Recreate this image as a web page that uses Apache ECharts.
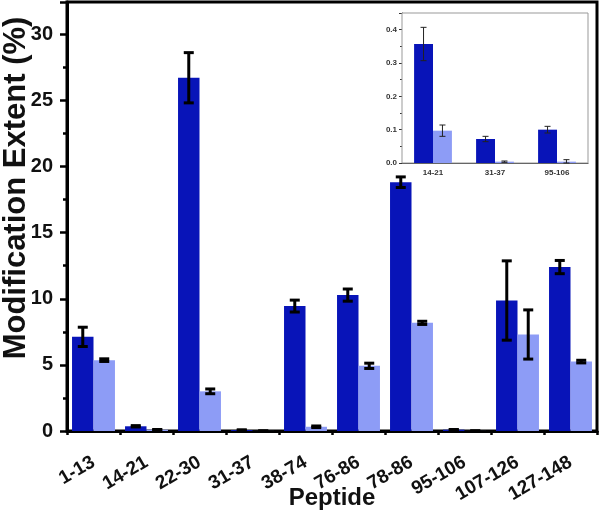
<!DOCTYPE html>
<html>
<head>
<meta charset="utf-8">
<script src="https://cdn.jsdelivr.net/npm/echarts@6/dist/echarts.min.js"></script>
<style>html,body{margin:0;padding:0;background:#fff;}#chart{width:600px;height:512px;}</style>
</head>
<body>
<div id="chart"></div>
<script>
// ---- data ----
const categories = ['1-13','14-21','22-30','31-37','38-74','76-86','78-86','95-106','107-126','127-148'];
const darkValues  = [7.12, 0.357, 26.72, 0.072, 9.45, 10.28, 18.82, 0.10, 9.87, 12.40];
const darkErrors  = [0.73, 0.05, 1.9, 0.008, 0.45, 0.46, 0.40, 0.01, 3.0, 0.50];
const lightValues = [5.36, 0.097, 3.0, 0.004, 0.32, 4.93, 8.18, 0.004, 7.30, 5.25];
const lightErrors = [0.10, 0.017, 0.18, 0.002, 0.06, 0.20, 0.12, 0.006, 1.86, 0.10];
const insetIndex = [1, 3, 7];
const insetCategories = insetIndex.map(i => categories[i]);
const insetDark = insetIndex.map(i => darkValues[i]);
const insetDarkErr = insetIndex.map(i => darkErrors[i]);
const insetLight = insetIndex.map(i => lightValues[i]);
const insetLightErr = insetIndex.map(i => lightErrors[i]);

const DARK = '#0814b8';
const LIGHT = '#8d9cf6';
const FONT = 'Liberation Sans, Arial, sans-serif';

function errRender(side, gap, lw, cap, color) {
  return function (params, api) {
    const i = api.value(0), v = api.value(1), e = api.value(2);
    const band = api.size([1, 0])[0];
    const w = band * (1 - gap) / 2;
    const x = api.coord([i, v])[0] + side * w / 2;
    const top = api.coord([i, v + e])[1];
    const bot = api.coord([i, Math.max(v - e, 0)])[1];
    const st = { stroke: color, lineWidth: lw };
    return { type: 'group', children: [
      { type: 'line', shape: { x1: x, y1: top, x2: x, y2: bot }, style: st },
      { type: 'line', shape: { x1: x - cap, y1: top, x2: x + cap, y2: top }, style: st },
      { type: 'line', shape: { x1: x - cap, y1: bot, x2: x + cap, y2: bot }, style: st }
    ]};
  };
}

const chart = echarts.init(document.getElementById('chart'), null, { renderer: 'canvas' });
const option = {
  backgroundColor: '#fff',
  animation: false,
  textStyle: { fontFamily: FONT },
  grid: [
    { left: 67, right: 3, top: 2, bottom: 81, show: true, borderColor: '#000', borderWidth: 3,
      backgroundColor: 'transparent', containLabel: false, outerBoundsMode: 'none' },
    { left: 402, right: 12, top: 13, bottom: 349, show: true, borderColor: '#999', borderWidth: 1,
      backgroundColor: '#fff', z: 5, containLabel: false, outerBoundsMode: 'none' }
  ],
  xAxis: [
    { type: 'category', gridIndex: 0, data: categories, position: 'bottom',
      name: 'Peptide', nameLocation: 'middle', nameGap: 55, nameMoveOverlap: false,
      nameTextStyle: { fontSize: 24, fontWeight: 'bold', color: '#111', fontFamily: FONT },
      axisLine: { lineStyle: { color: '#000', width: 3 } },
      axisTick: { alignWithLabel: true, length: 8, lineStyle: { color: '#000', width: 2.5 } },
      axisLabel: { rotate: 30, margin: 30, fontSize: 19, fontWeight: 'bold', color: '#111', interval: 0, fontFamily: FONT },
      splitLine: { show: false } },
    { type: 'category', gridIndex: 0, data: categories, position: 'bottom',
      axisLine: { show: false },
      axisTick: { show: true, length: 4, interval: 0, lineStyle: { color: '#000', width: 2.5 } },
      axisLabel: { show: false }, splitLine: { show: false } },
    { type: 'category', gridIndex: 1, data: insetCategories,
      axisLine: { lineStyle: { color: '#333', width: 1 } },
      axisTick: { show: false },
      axisLabel: { fontSize: 8, fontWeight: 'bold', color: '#333', margin: 6, fontFamily: FONT } }
  ],
  yAxis: [
    { type: 'value', gridIndex: 0, min: 0, max: 32.45, interval: 5,
      axisLine: { show: true, lineStyle: { color: '#000', width: 3 } },
      axisTick: { show: true, length: 7, lineStyle: { color: '#000', width: 2.5 } },
      minorTick: { show: true, splitNumber: 2, length: 4, lineStyle: { color: '#000', width: 2.5 } },
      axisLabel: { fontSize: 20, fontWeight: 'bold', color: '#111', margin: 14, showMaxLabel: false, fontFamily: FONT },
      splitLine: { show: false } },
    { type: 'value', gridIndex: 1, min: 0, max: 0.45, interval: 0.1,
      axisLine: { show: true, lineStyle: { color: '#333', width: 1 } },
      axisTick: { show: true, length: 3, lineStyle: { color: '#333', width: 1 } },
      minorTick: { show: true, splitNumber: 2, length: 2, lineStyle: { color: '#333', width: 1 } },
      axisLabel: { fontSize: 8, fontWeight: 'bold', color: '#333', margin: 5, showMaxLabel: false,
        formatter: v => v.toFixed(1), fontFamily: FONT },
      splitLine: { show: false } }
  ],
  graphic: [
    { type: 'text', x: 16, y: 188, rotation: Math.PI / 2,
      style: { text: 'Modification Extent (%)', font: 'bold 31px ' + FONT, fill: '#111',
        textAlign: 'center', textVerticalAlign: 'middle' } }
  ],
  series: [
    { type: 'bar', xAxisIndex: 0, yAxisIndex: 0, data: darkValues, barGap: '0%', barCategoryGap: '19%',
      itemStyle: { color: DARK }, z: 2 },
    { type: 'bar', xAxisIndex: 0, yAxisIndex: 0, data: lightValues, barGap: '0%', barCategoryGap: '19%',
      itemStyle: { color: LIGHT }, z: 2 },
    { type: 'custom', xAxisIndex: 0, yAxisIndex: 0, z: 3,
      renderItem: errRender(-1, 0.19, 3, 5, '#000'),
      data: categories.map((c, i) => [i, darkValues[i], darkErrors[i]]), encode: { x: 0, y: 1 } },
    { type: 'custom', xAxisIndex: 0, yAxisIndex: 0, z: 3,
      renderItem: errRender(1, 0.19, 3, 5, '#000'),
      data: categories.map((c, i) => [i, lightValues[i], lightErrors[i]]), encode: { x: 0, y: 1 } },
    { type: 'bar', xAxisIndex: 2, yAxisIndex: 1, data: insetDark, barGap: '0%', barCategoryGap: '39%',
      itemStyle: { color: DARK }, z: 6 },
    { type: 'bar', xAxisIndex: 2, yAxisIndex: 1, data: insetLight, barGap: '0%', barCategoryGap: '39%',
      itemStyle: { color: LIGHT }, z: 6 },
    { type: 'custom', xAxisIndex: 2, yAxisIndex: 1, z: 7,
      renderItem: errRender(-1, 0.39, 1, 3, '#222'),
      data: insetIndex.map((c, k) => [k, insetDark[k], insetDarkErr[k]]), encode: { x: 0, y: 1 } },
    { type: 'custom', xAxisIndex: 2, yAxisIndex: 1, z: 7,
      renderItem: errRender(1, 0.39, 1, 3, '#222'),
      data: insetIndex.map((c, k) => [k, insetLight[k], insetLightErr[k]]), encode: { x: 0, y: 1 } }
  ]
};
chart.setOption(option);
</script>
</body>
</html>
